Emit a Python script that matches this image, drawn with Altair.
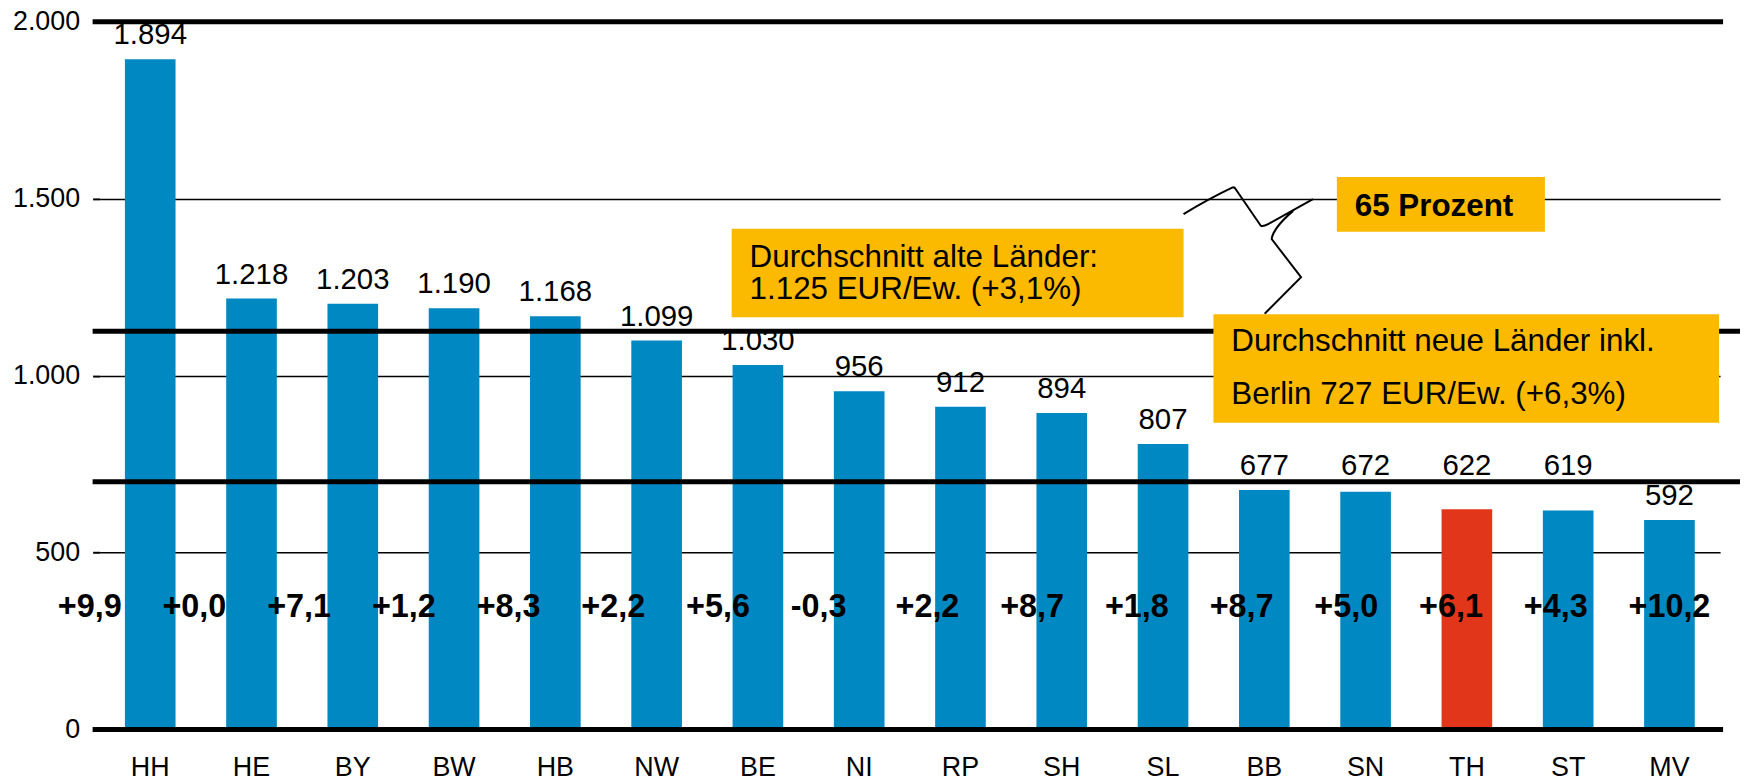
import altair as alt
import pandas as pd

# ---------------- data ----------------
states = ["HH", "HE", "BY", "BW", "HB", "NW", "BE", "NI", "RP", "SH", "SL",
          "BB", "SN", "TH", "ST", "MV"]
values = [1894, 1218, 1203, 1190, 1168, 1099, 1030, 956, 912, 894, 807,
          677, 672, 622, 619, 592]
changes = [9.9, 0.0, 7.1, 1.2, 8.3, 2.2, 5.6, -0.3, 2.2, 8.7, 1.8,
           8.7, 5.0, 6.1, 4.3, 10.2]
highlight_state = "TH"
y_ticks = [0, 500, 1000, 1500, 2000]
frame_levels = [0, 2000]
avg_levels = [1125, 700]          # average lines as drawn in the picture
label_lift_level = 678            # labels just under the average line are lifted above it

box_alt_text = ["Durchschnitt alte Länder:", "1.125 EUR/Ew. (+3,1%)"]
box_neu_text = ["Durchschnitt neue Länder inkl.", "Berlin 727 EUR/Ew. (+6,3%)"]
box_pct_text = "65 Prozent"

# ---------------- styles ----------------
BLUE = "#0088C2"
RED = "#E2361A"
YELLOW = "#FBBA00"
FONT = "Liberation Sans"
W, H = 1628, 711

df = pd.DataFrame({"state": states, "value": values, "change": changes})
df["label"] = [f"{v:,}".replace(",", ".") for v in values]
df["change_label"] = [f"{c:+.1f}".replace(".", ",") for c in changes]
df["group"] = ["hervorgehoben" if s == highlight_state else "normal" for s in states]

one = pd.DataFrame({"k": [0]})

band_scale = alt.Scale(paddingInner=0.5, paddingOuter=0.25)
y_scale = alt.Scale(domain=[0, 2000], nice=False, zero=True)

x_bars = alt.X(
    "state:N", sort=states, scale=band_scale, title=None,
    axis=alt.Axis(labelAngle=0, labelFontSize=27, labelFont=FONT,
                  labelColor="black", ticks=False, tickSize=0, domain=False,
                  labelPadding=25, labelBaseline="top"),
)
y_bars = alt.Y(
    "value:Q", scale=y_scale, title=None,
    axis=alt.Axis(values=y_ticks,
                  labelExpr="replace(format(datum.value, ','), ',', '.')",
                  grid=True, gridColor="black", gridWidth=1.5,
                  tickColor="black", tickSize=7, tickWidth=2, domain=False,
                  labelFontSize=27, labelFont=FONT, labelColor="black",
                  labelPadding=13),
)

bars = alt.Chart(df).mark_bar().encode(
    x=x_bars,
    y=y_bars,
    color=alt.Color("group:N",
                    scale=alt.Scale(domain=["normal", "hervorgehoben"],
                                    range=[BLUE, RED]),
                    legend=None),
)

value_labels = alt.Chart(df).transform_calculate(
    anchor=f"datum.value > 600 ? max(datum.value, {label_lift_level}) : datum.value"
).mark_text(font=FONT, fontSize=29.5, baseline="alphabetic", dy=-15,
            color="black").encode(
    x=alt.X("state:N", sort=states, scale=band_scale, axis=None),
    y=alt.Y("anchor:Q", scale=y_scale, title=None),
    text="label:N",
)

frame_rules = alt.Chart(pd.DataFrame({"level": frame_levels})).mark_rule(
    color="black", strokeWidth=5).encode(
    y=alt.Y("level:Q", scale=y_scale, title=None),
    x=alt.value(-7), x2=alt.value(W + 3),
)

avg_rules = alt.Chart(pd.DataFrame({"level": avg_levels})).mark_rule(
    color="black", strokeWidth=5).encode(
    y=alt.Y("level:Q", scale=y_scale, title=None),
    x=alt.value(-7), x2=alt.value(W + 24),
)

change_labels = alt.Chart(df).mark_text(
    font=FONT, fontSize=32.5, fontWeight="bold", align="left",
    baseline="alphabetic", color="black").encode(
    x=alt.X("state:N", sort=states,
            scale=alt.Scale(type="point", range=[-42, 1536], padding=0),
            axis=None),
    y=alt.value(598),
    text="change_label:N",
)

box_alt = alt.Chart(one).mark_rect(color=YELLOW).encode(
    x=alt.value(635), x2=alt.value(1089), y=alt.value(208), y2=alt.value(297))
box_neu = alt.Chart(one).mark_rect(color=YELLOW).encode(
    x=alt.value(1119), x2=alt.value(1627), y=alt.value(294), y2=alt.value(403))
box_pct = alt.Chart(one).mark_rect(color=YELLOW).encode(
    x=alt.value(1243), x2=alt.value(1452), y=alt.value(156), y2=alt.value(211))

text_alt = alt.Chart(one).mark_text(
    text=box_alt_text, font=FONT, fontSize=31.5, lineHeight=32.5,
    align="left", baseline="alphabetic", color="black").encode(
    x=alt.value(653), y=alt.value(246))
text_neu = alt.Chart(one).mark_text(
    text=box_neu_text, font=FONT, fontSize=31.5, lineHeight=53,
    align="left", baseline="alphabetic", color="black").encode(
    x=alt.value(1137), y=alt.value(331))
text_pct = alt.Chart(one).mark_text(
    text=box_pct_text, font=FONT, fontSize=31.5, fontWeight="bold",
    align="left", baseline="alphabetic", color="black").encode(
    x=alt.value(1261), y=alt.value(195))

brace_path = ("M -0.985 -0.565 Q -0.6 -0.8 -0.234 -0.974 Q -0.2 -0.99 -0.178 -0.949 "
              "L 0.209 -0.385 Q 0.25 -0.37 0.322 -0.411 L 1.015 -0.795 "
              "M 0.708 -0.615 Q 0.4 -0.35 0.377 -0.18 L 0.831 0.411 L 0.269 0.974")
brace = alt.Chart(one).mark_point(
    shape=brace_path, size=16900, filled=False, color="black",
    strokeWidth=2, opacity=1).encode(x=alt.value(1153), y=alt.value(230))

chart = alt.layer(
    bars, avg_rules, frame_rules, value_labels, change_labels,
    brace, box_alt, box_neu, box_pct, text_alt, text_neu, text_pct,
).resolve_scale(x="independent").properties(
    width=W, height=H,
    padding={"left": 92, "top": 12, "right": 20, "bottom": 50},
    autosize=alt.AutoSizeParams(type="none"),
    background="white",
).configure_view(stroke=None)

chart.save("out.html", embed_options={"renderer": "svg", "actions": False})
